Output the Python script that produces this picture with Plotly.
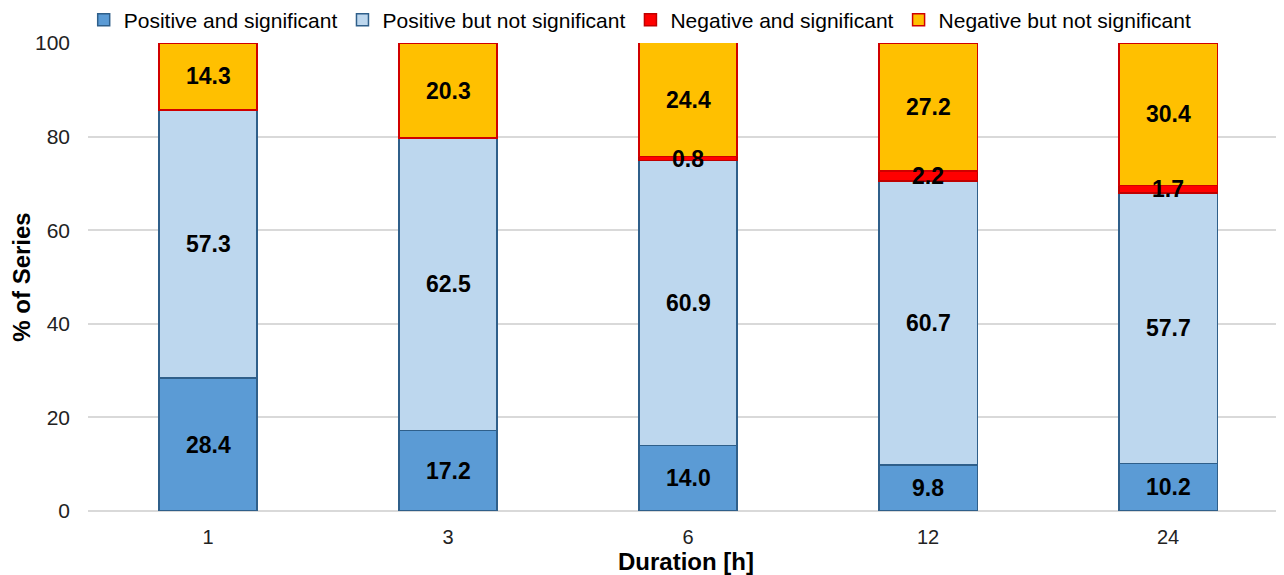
import plotly.graph_objects as go

durations = ["1", "3", "6", "12", "24"]
pos_sig = [28.4, 17.2, 14.0, 9.8, 10.2]
pos_nonsig = [57.3, 62.5, 60.9, 60.7, 57.7]
neg_sig = [0.0, 0.0, 0.8, 2.2, 1.7]
neg_nonsig = [14.3, 20.3, 24.4, 27.2, 30.4]

series = [
    ("Positive and significant", pos_sig, "#5B9BD5", "#2F5F8A"),
    ("Positive but not significant", pos_nonsig, "#BDD7EE", "#2F5F8A"),
    ("Negative and significant", neg_sig, "#FF0000", "#C00000"),
    ("Negative but not significant", neg_nonsig, "#FFC000", "#D00000"),
]

FONT = "Arial, Liberation Sans, sans-serif"

fig = go.Figure()
base = [0.0] * len(durations)
annotations = []
for name, vals, fill, edge in series:
    fig.add_trace(go.Bar(
        x=durations, y=vals, name=name,
        marker=dict(color=fill, line=dict(color=edge, width=1.5)),
        hoverinfo="name+y",
    ))
    for i, v in enumerate(vals):
        if v > 0:
            annotations.append(dict(
                x=i, y=base[i] + v / 2, xref="x", yref="y",
                text=f"<b>{v:.1f}</b>", showarrow=False,
                font=dict(family=FONT, size=23, color="black"),
            ))
        base[i] += v

fig.update_layout(
    barmode="stack", bargap=0.59,
    width=1276, height=567,
    margin=dict(l=80, r=0, t=35, b=64, autoexpand=False),
    plot_bgcolor="white", paper_bgcolor="white",
    font=dict(family=FONT, size=21, color="#222"),
    showlegend=True,
    legend=dict(orientation="h", x=-0.0036, y=1.049, xanchor="left", yanchor="middle",
                font=dict(family=FONT, size=21, color="black"), itemwidth=30,
                traceorder="normal"),
    annotations=annotations,
    xaxis=dict(title=dict(text="<b>Duration [h]</b>", font=dict(family=FONT, size=24, color="black"), standoff=4),
               range=[-0.5, 4.483], showline=False, ticks="", ticklabelstandoff=12,
               tickfont=dict(family=FONT, size=20, color="#222")),
    yaxis=dict(title=dict(text="<b>% of Series</b>", font=dict(family=FONT, size=24, color="black"), standoff=4),
               range=[0, 100], dtick=20, gridcolor="#D9D9D9", gridwidth=1.5,
               zeroline=True, zerolinecolor="#D9D9D9", zerolinewidth=2,
               ticks="", ticklabelstandoff=17,
               tickfont=dict(family=FONT, size=21, color="#222")),
)

fig.write_html("out.html")
